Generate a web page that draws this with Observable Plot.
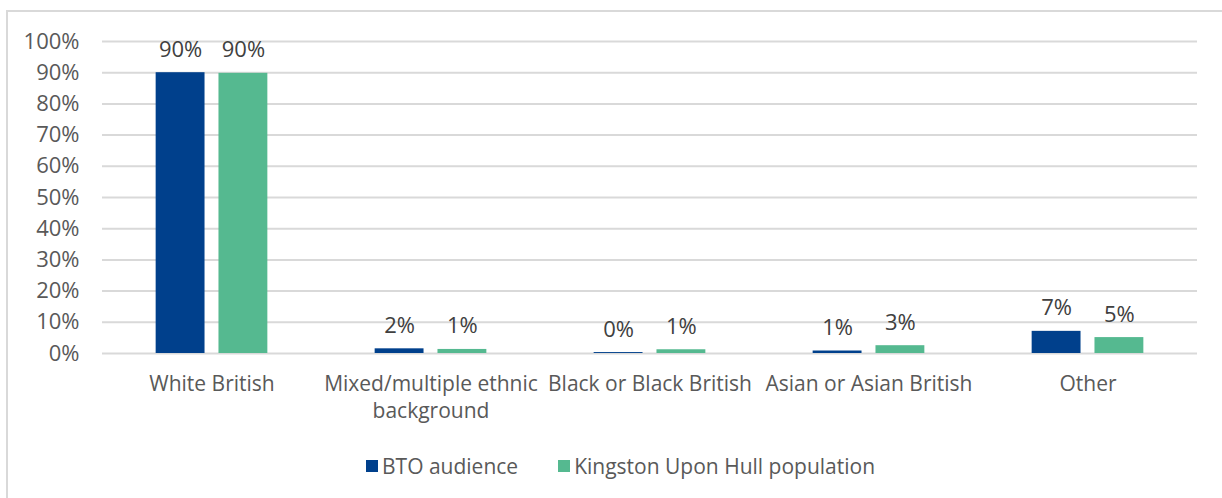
<!DOCTYPE html>
<html>
<head>
<meta charset="utf-8">
<script src="https://cdn.jsdelivr.net/npm/d3@7"></script>
<script src="https://cdn.jsdelivr.net/npm/@observablehq/plot@0.6"></script>
<style>
  html, body { margin: 0; padding: 0; background: #fff; overflow: hidden; }
  body { width: 1222px; height: 498px; position: relative; font-family: "Open Sans", sans-serif; }
  #frame { position: absolute; left: 6px; top: 10px; width: 1300px; height: 600px; border-left: 2px solid #d9d9d9; border-top: 2px solid #d9d9d9; }
  #chart { position: absolute; left: 0; top: 0; }
  #legend { position: absolute; left: 366px; top: 452px; display: flex; align-items: center; font-size: 21px; color: #595959; }
  .item { display: flex; align-items: center; }
  .sw { width: 12px; height: 12px; margin-right: 4px; }
</style>
</head>
<body>
<div id="frame"></div>
<div id="chart"></div>
<div id="legend"></div>
<script>
const categories = ["White British", "Mixed/multiple ethnic background", "Black or Black British", "Asian or Asian British", "Other"];
const categoryLabels = ["White British", "Mixed/multiple ethnic\nbackground", "Black or Black British", "Asian or Asian British", "Other"];
const seriesNames = ["BTO audience", "Kingston Upon Hull population"];
const btoValues = [90, 1.5, 0.3, 0.8, 7.1];
const hullValues = [89.8, 1.3, 1.2, 2.5, 5.1];
const colors = ["#00408C", "#55B990"];
const yTicks = [0, 10, 20, 30, 40, 50, 60, 70, 80, 90, 100];

const data = [];
categories.forEach((c, i) => {
  data.push({category: c, series: seriesNames[0], value: btoValues[i]});
  data.push({category: c, series: seriesNames[1], value: hullValues[i]});
});

const chart = Plot.plot({
  width: 1222,
  height: 440,
  marginLeft: 100,
  marginRight: 24,
  marginTop: 41,
  marginBottom: 87,
  style: {fontFamily: "Open Sans, sans-serif", fontSize: "21px", color: "#595959", background: "transparent"},
  fx: {domain: categories, padding: 0, label: null, axis: null},
  x: {domain: seriesNames, paddingInner: 0.222, paddingOuter: 0.854, round: false, axis: null},
  y: {domain: [0, 100], label: null},
  color: {domain: seriesNames, range: colors},
  marks: [
    Plot.ruleY(yTicks, {stroke: "#d9d9d9", strokeWidth: 2}),
    Plot.axisY(yTicks, {tickSize: 0, tickPadding: 23, tickFormat: d => d + "%", label: null, fontSize: 22}),
    Plot.axisFx({anchor: "bottom", tickSize: 0, tickPadding: 18, label: null, fontSize: 21, lineHeight: 1.3,
      tickFormat: d => categoryLabels[categories.indexOf(d)]}),
    Plot.barY(data, {fx: "category", x: "series", y: "value", fill: "series"}),
    Plot.text(data, {fx: "category", x: "series", y: "value", text: d => Math.round(d.value) + "%",
      lineAnchor: "bottom", dy: -16, fill: "#404040", fontSize: 22})
  ]
});
document.getElementById("chart").appendChild(chart);

const legend = document.getElementById("legend");
seriesNames.forEach((s, i) => {
  const item = document.createElement("div");
  item.className = "item";
  if (i > 0) item.style.marginLeft = "40px";
  const sw = document.createElement("div");
  sw.className = "sw";
  sw.style.background = colors[i];
  const t = document.createElement("span");
  t.textContent = s;
  item.appendChild(sw);
  item.appendChild(t);
  legend.appendChild(item);
});
</script>
</body>
</html>
